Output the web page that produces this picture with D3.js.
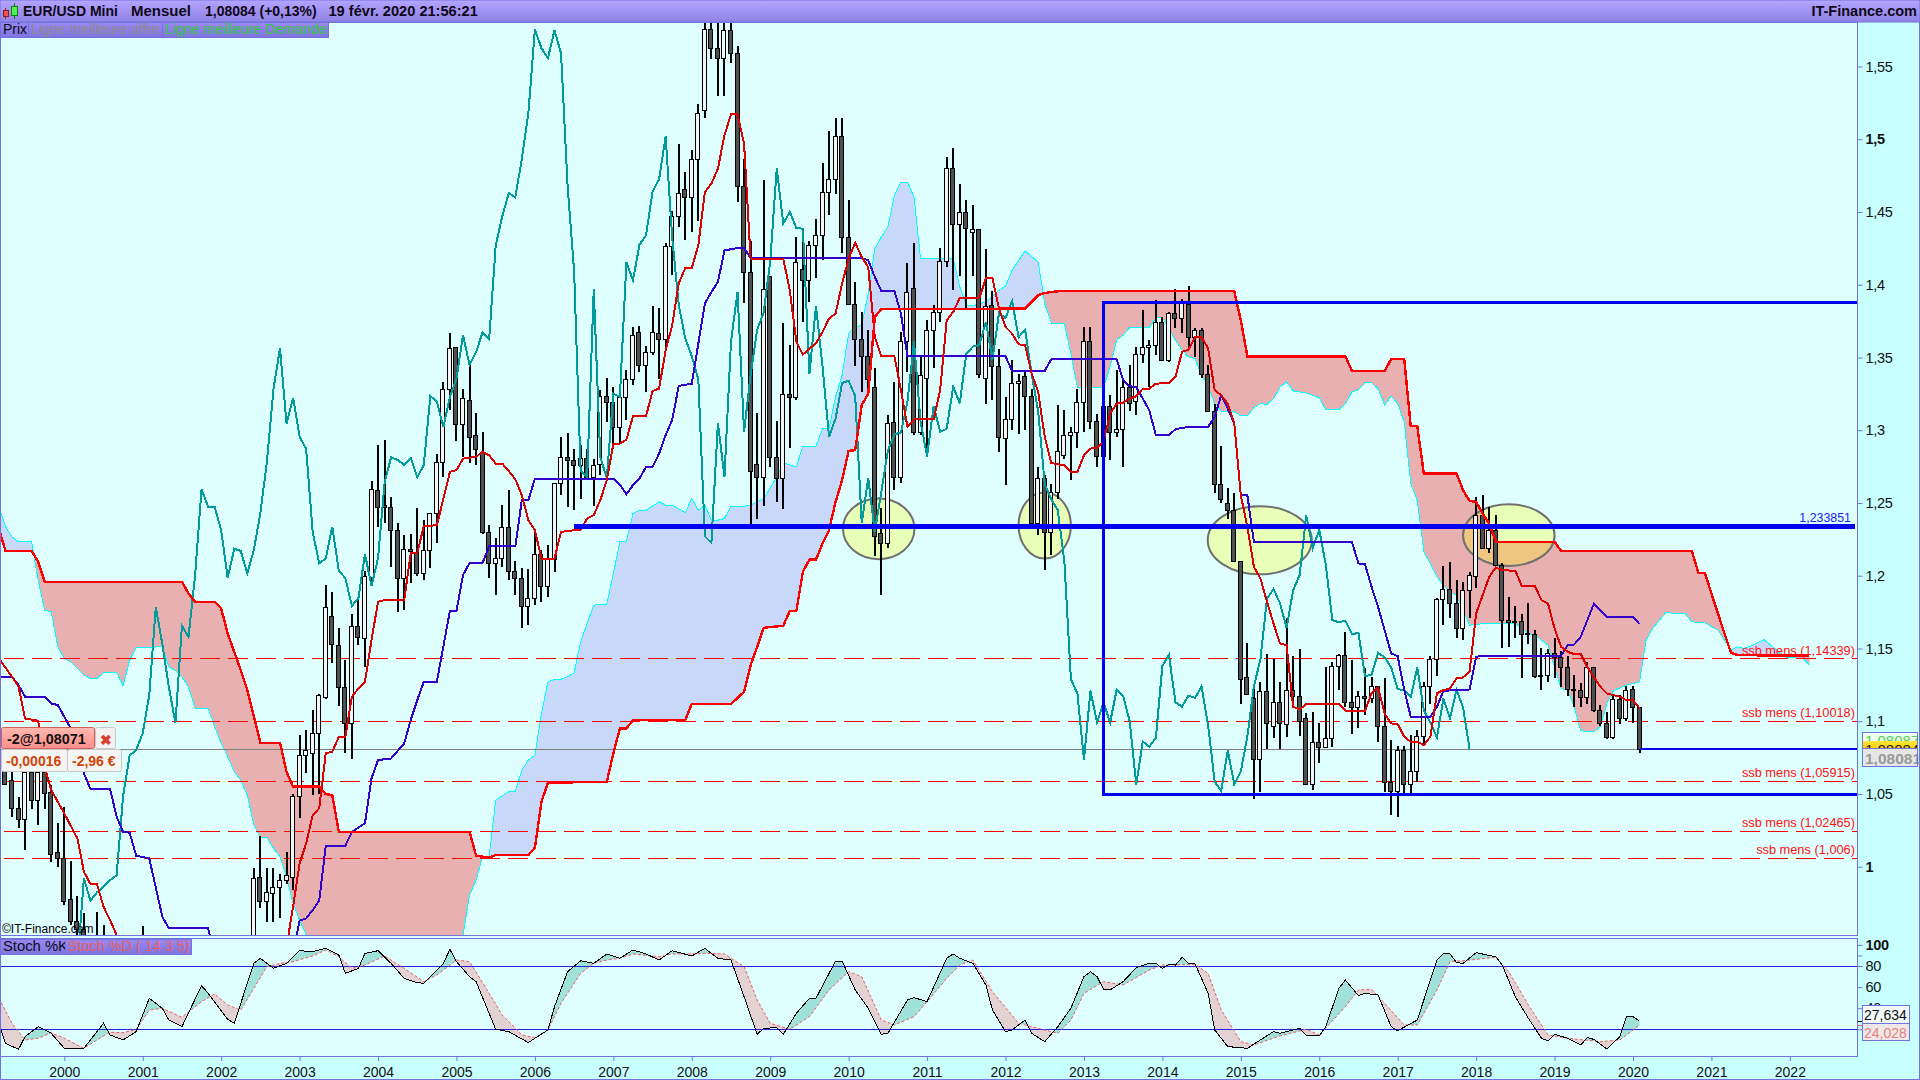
<!DOCTYPE html>
<html><head><meta charset="utf-8"><title>EUR/USD Mini</title>
<script src="https://cdn.jsdelivr.net/npm/d3@7/dist/d3.min.js"></script>
<style>html,body{margin:0;padding:0;background:#dfffff}svg{display:block}text{font-family:"Liberation Sans",Arial,sans-serif}</style>
</head><body><div id="chart"></div><script>
// months are counted from Jan 2000 = 0
const firstCandleMonth=-9;
const opens=[1.0760,1.0596,1.0403,1.0328,1.0653,1.0458,1.0653,1.0515,1.0103,
1.0058,.9778,.9627,.9570,.9110,.9305,.9530,.9240,.8880,.8825,.8485,.8700,
.9405,.9230,.9190,.8790,.8880,.8460,.8470,.8770,.9120,.9100,.9050,.8980,
.8900,.8610,.8700,.8720,.9010,.9330,.9931,.9766,.9817,.9863,.9908,.9931,
1.0486,1.0765,1.0779,1.0918,1.1166,1.1723,1.1525,1.1235,1.0987,1.1654,1.1574,1.1993,
1.2589,1.2484,1.2474,1.2312,1.1985,1.2186,1.2165,1.2016,1.2177,1.2430,1.2784,1.3282,
1.3574,1.3043,1.3211,1.2967,1.2852,1.2302,1.2085,1.2119,1.2336,1.2035,1.1983,1.1792,
1.1846,1.2150,1.1928,1.2115,1.2637,1.2816,1.2795,1.2762,1.2810,1.2676,1.2767,1.3235,
1.3196,1.3022,1.3230,1.3355,1.3678,1.3448,1.3537,1.3666,1.3625,1.4268,1.4470,1.4660,
1.4600,1.4865,1.5199,1.5756,1.5626,1.5558,1.5750,1.5590,1.4680,1.4090,1.2770,1.2680,
1.4060,1.2815,1.2670,1.3250,1.3230,1.4110,1.4030,1.4275,1.4340,1.4640,1.4725,1.5020,
1.4325,1.3865,1.3630,1.3510,1.3300,1.2294,1.2227,1.3058,1.2680,1.3610,1.3975,1.2990,
1.3360,1.3690,1.3810,1.4160,1.4800,1.4420,1.4500,1.4365,1.4385,1.3360,1.3860,1.3440,
1.2945,1.3080,1.3325,1.3370,1.3235,1.2362,1.2670,1.2300,1.2577,1.2830,1.2970,1.2985,
1.3195,1.3610,1.3060,1.2820,1.3165,1.2990,1.3010,1.3300,1.3200,1.3525,1.3575,1.3585,
1.3745,1.3485,1.3805,1.3770,1.3870,1.3640,1.3690,1.3385,1.3130,1.2630,1.2500,1.2450,
1.2100,1.1305,1.1160,1.0737,1.1210,1.0970,1.1130,1.0980,1.1215,1.1175,1.1020,1.0565,
1.0860,1.0825,1.0885,1.1380,1.1455,1.1130,1.1100,1.1175,1.1160,1.1240,1.0970,1.0585,
1.0520,1.0800,1.0565,1.0655,1.0895,1.1240,1.1425,1.1840,1.1910,1.1810,1.1640,1.1900,
1.2000,1.2415,1.2190,1.2315,1.2075,1.1695,1.1680,1.1690,1.1600,1.1600,1.1310,1.1320,
1.1470,1.1440,1.1370,1.1220,1.1215,1.1165,1.1370,1.1075,1.0990,1.0890,1.1155,1.1020,
1.1220,1.1095];
const highs=[1.0880,1.0760,1.0480,1.0780,1.0780,1.0720,1.0880,1.0560,1.0300,
1.0410,1.0036,.9800,.9680,.9400,.9690,.9600,.9280,.9030,.8840,.8840,.9410,
.9590,.9370,.9310,.9080,.9000,.8660,.8870,.9200,.9280,.9130,.9060,.9050,
.9040,.8780,.8840,.9050,.9370,.9993,1.0211,.9990,.9990,.9950,1.0103,1.0500,
1.0905,1.0940,1.1080,1.1190,1.1936,1.1888,1.1640,1.1420,1.1737,1.1850,1.2030,1.2650,
1.2898,1.2933,1.2544,1.2362,1.2280,1.2290,1.2466,1.2383,1.2430,1.2840,1.3333,1.3668,
1.3574,1.3280,1.3450,1.3121,1.2989,1.2350,1.2258,1.2485,1.2589,1.2100,1.2050,1.2049,
1.2323,1.2180,1.2209,1.2640,1.2955,1.2980,1.2868,1.2900,1.2870,1.2800,1.3275,1.3360,
1.3298,1.3240,1.3415,1.3712,1.3715,1.3580,1.3854,1.3838,1.4290,1.4507,1.4967,1.4775,
1.4926,1.5242,1.5900,1.6020,1.5810,1.5800,1.6038,1.5640,1.4867,1.4300,1.3118,1.4720,
1.4060,1.3060,1.3738,1.3585,1.4330,1.4335,1.4300,1.4450,1.4840,1.5060,1.5145,1.5145,
1.4580,1.4020,1.3815,1.3690,1.3430,1.2465,1.3105,1.3333,1.3675,1.4150,1.4285,1.3500,
1.3756,1.3862,1.4250,1.4880,1.4940,1.4695,1.4580,1.4545,1.4385,1.4245,1.3960,1.3555,
1.3230,1.3485,1.3385,1.3400,1.3285,1.2750,1.2690,1.2630,1.3170,1.3140,1.3025,1.3285,
1.3710,1.3710,1.3110,1.3240,1.3240,1.3415,1.3345,1.3450,1.3570,1.3825,1.3620,1.3895,
1.3775,1.3810,1.3970,1.3900,1.3993,1.3700,1.3700,1.3450,1.3180,1.2890,1.2600,1.2570,
1.2100,1.1535,1.1220,1.1270,1.1465,1.1430,1.1270,1.1710,1.1450,1.1495,1.1055,1.1060,
1.0985,1.1375,1.1410,1.1465,1.1615,1.1420,1.1205,1.1365,1.1305,1.1240,1.1300,1.0870,
1.0830,1.0830,1.0905,1.0940,1.1270,1.1445,1.1845,1.2070,1.2095,1.1970,1.1960,1.2025,
1.2540,1.2555,1.2475,1.2415,1.2085,1.1855,1.1790,1.1735,1.1815,1.1625,1.1500,1.1495,
1.1570,1.1480,1.1450,1.1320,1.1265,1.1410,1.1370,1.1110,1.1060,1.1180,1.1180,1.1240,
1.1240,1.1095];
const lows=[1.0560,1.0340,1.0266,1.0115,1.0400,1.0287,1.0400,1.0034,1.0000,
.9737,.9600,.9400,.9050,.8850,.9270,.9050,.8840,.8450,.8230,.8380,.8660,
.9080,.9070,.8780,.8740,.8440,.8400,.8380,.8770,.8900,.8900,.8750,.8800,
.8580,.8610,.8620,.8670,.9000,.9330,.9714,.9622,.9620,.9650,.9880,.9840,
1.0335,1.0644,1.0493,1.0500,1.1150,1.1400,1.1104,1.0780,1.0740,1.1525,1.1374,1.1930,
1.2337,1.2360,1.2060,1.1752,1.1764,1.1953,1.2000,1.1970,1.2050,1.2225,1.2680,1.3139,
1.2923,1.2816,1.2773,1.2760,1.2290,1.1982,1.1865,1.2060,1.1970,1.1865,1.1640,1.1662,
1.1799,1.1820,1.1855,1.2028,1.2558,1.2475,1.2453,1.2530,1.2660,1.2480,1.2690,1.3058,
1.2870,1.2912,1.3068,1.3310,1.3402,1.3265,1.3517,1.3355,1.3550,1.4070,1.4398,1.4310,
1.4364,1.4440,1.5145,1.5550,1.5300,1.5300,1.5525,1.4570,1.3877,1.2330,1.2390,1.2477,
1.2750,1.2509,1.2457,1.2876,1.3210,1.3746,1.3880,1.4045,1.4170,1.4480,1.4625,1.4218,
1.3860,1.3440,1.3265,1.3265,1.2135,1.1867,1.2193,1.2590,1.2640,1.3400,1.2970,1.2968,
1.2860,1.3430,1.3745,1.4120,1.3965,1.4060,1.3840,1.4060,1.3360,1.3180,1.3210,1.2850,
1.2625,1.3000,1.2975,1.3000,1.2335,1.2280,1.2040,1.2142,1.2530,1.2800,1.2660,1.2875,
1.2990,1.3010,1.2750,1.2810,1.2795,1.2955,1.2750,1.3130,1.3105,1.3465,1.3295,1.3517,
1.3475,1.3470,1.3700,1.3670,1.3575,1.3500,1.3360,1.3130,1.2570,1.2500,1.2390,1.2100,
1.1120,1.1185,1.0465,1.0515,1.0810,1.0885,1.0810,1.0890,1.1090,1.0895,1.0560,1.0525,
1.0710,1.0825,1.0820,1.1215,1.1100,1.0910,1.0950,1.1045,1.1125,1.0855,1.0515,1.0352,
1.0340,1.0495,1.0500,1.0585,1.0840,1.1115,1.1310,1.1660,1.1710,1.1575,1.1555,1.1710,
1.1915,1.2190,1.2155,1.2075,1.1505,1.1510,1.1575,1.1300,1.1530,1.1300,1.1215,1.1270,
1.1300,1.1235,1.1175,1.1100,1.1100,1.1115,1.1060,1.0965,1.0880,1.0880,1.0980,1.1000,
1.0990,1.0780];
const closes=[1.0570,1.0403,1.0328,1.0653,1.0458,1.0653,1.0504,1.0090,1.0058,
.9766,.9627,.9570,.9110,.9305,.9530,.9240,.8880,.8825,.8485,.8700,.9405,
.9230,.9190,.8790,.8880,.8460,.8470,.8770,.9120,.9100,.9050,.8980,.8900,
.8610,.8700,.8720,.9010,.9330,.9920,.9766,.9824,.9863,.9908,.9940,1.0486,
1.0765,1.0802,1.0918,1.1180,1.1785,1.1530,1.1235,1.0987,1.1656,1.1579,1.1996,1.2595,
1.2474,1.2474,1.2312,1.1985,1.2186,1.2170,1.2016,1.2177,1.2430,1.2784,1.3282,1.3564,
1.3046,1.3223,1.2955,1.2872,1.2302,1.2085,1.2119,1.2336,1.2035,1.1983,1.1792,1.1846,
1.2150,1.1928,1.2121,1.2637,1.2815,1.2795,1.2762,1.2810,1.2676,1.2761,1.3235,1.3196,
1.3022,1.3230,1.3355,1.3654,1.3448,1.3537,1.3674,1.3625,1.4268,1.4470,1.4630,1.4600,
1.4865,1.5180,1.5756,1.5626,1.5558,1.5750,1.5590,1.4680,1.4090,1.2720,1.2680,1.3970,
1.2816,1.2670,1.3250,1.3230,1.4155,1.4030,1.4275,1.4340,1.4640,1.4725,1.5020,1.4325,
1.3865,1.3630,1.3510,1.3350,1.2270,1.2227,1.3050,1.2680,1.3610,1.3950,1.2990,1.3380,
1.3690,1.3810,1.4160,1.4800,1.4420,1.4500,1.4390,1.4385,1.3385,1.3855,1.3440,1.2955,
1.3080,1.3325,1.3340,1.3235,1.2362,1.2670,1.2300,1.2577,1.2860,1.2970,1.2985,1.3195,
1.3610,1.3060,1.2820,1.3165,1.2990,1.3010,1.3300,1.3185,1.3525,1.3575,1.3585,1.3745,
1.3485,1.3805,1.3770,1.3888,1.3640,1.3690,1.3385,1.3130,1.2630,1.2525,1.2450,1.2100,
1.1290,1.1190,1.0737,1.1210,1.0990,1.1130,1.0990,1.1215,1.1175,1.1000,1.0565,1.0860,
1.0825,1.0885,1.1380,1.1455,1.1130,1.1100,1.1175,1.1160,1.1240,1.0970,1.0585,1.0520,
1.0800,1.0565,1.0655,1.0895,1.1240,1.1425,1.1840,1.1910,1.1810,1.1640,1.1900,1.2005,
1.2415,1.2190,1.2315,1.2075,1.1695,1.1680,1.1690,1.1600,1.1605,1.1310,1.1320,1.1470,
1.1440,1.1370,1.1220,1.1215,1.1165,1.1370,1.1075,1.0990,1.0890,1.1155,1.1020,1.1215,
1.1095,1.0808];
const chikouLagMonths=26;

const tenkanMonths=[-10,-8,-7,-6,-4,-3,-2,0,2,3,4,5,6,7,8,9,12,25,27,34,35,36,37,38,39,40,41,42,43,44,45,46,47,48,49,52,53,54,55,57,58,59,60,61,63,64,65,66,67,68,69,70,71,72,73,75,76,78,79,80,81,82,83,84,85,86,87,89,90,91,92,93,94,95,96,97,98,99,100,101,102,103,104,105,110,111,112,113,114,115,116,117,118,119,120,121,122,123,124,125,127,128,129,130,133,134,135,136,137,140,141,142,143,144,145,146,147,148,149,150,151,152,153,154,155,156,157,158,159,160,161,162,163,164,165,166,167,169,170,171,172,173,174,175,176,177,178,179,180,181,182,183,184,185,186,187,188,189,190,195,196,199,200,201,202,203,204,205,206,207,208,209,210,211,212,213,214,215,216,217,218,219,220,222,223,225,226,227,228,229,230,231,232,233,234,235,236,238,239,240,241];
const tenkanValues=[1.1432,1.1305,1.1237,1.1019,1.1003,1.0687,1.0527,1.0366,1.0195,.9966,.9881,.9881,.9725,.9634,.9531,.935,.90,.90,.91,.945,.9725,1.0023,1.0160,1.0355,1.0401,1.0779,1.0790,1.0893,1.0893,1.1168,1.1225,1.1271,1.1557,1.1821,1.1832,1.1832,1.2153,1.2157,1.2340,1.2347,1.2530,1.2714,1.2725,1.2805,1.2817,1.2851,1.2828,1.2771,1.2771,1.2720,1.2663,1.2553,1.2382,1.2313,1.2118,1.2118,1.2301,1.2313,1.2317,1.2393,1.2416,1.2519,1.2656,1.2908,1.2908,1.2936,1.3096,1.3096,1.3270,1.3286,1.3550,1.3721,1.4008,1.4115,1.4115,1.4271,1.4637,1.4695,1.4798,1.5027,1.5171,1.5171,1.4969,1.4179,1.4179,1.3962,1.3607,1.3520,1.3561,1.3596,1.3676,1.3767,1.3802,1.4008,1.4179,1.4289,1.4191,1.4122,1.3641,1.3509,1.3509,1.3275,1.3023,1.3074,1.3074,1.3275,1.3756,1.3813,1.3909,1.3909,1.4046,1.4046,1.3836,1.3710,1.3664,1.3591,1.3584,1.3389,1.3263,1.2954,1.2775,1.2766,1.2759,1.2714,1.2714,1.2828,1.2874,1.2879,1.2920,1.3115,1.3183,1.3188,1.3218,1.3234,1.3286,1.3286,1.3320,1.3325,1.3366,1.3538,1.3554,1.3641,1.3641,1.3561,1.3275,1.3240,1.3183,1.3045,1.2553,1.2336,1.2061,1.1981,1.1821,1.1672,1.1534,1.1523,1.1099,1.1081,1.1118,1.1118,1.1072,1.1072,1.1191,1.1232,1.1053,1.0985,1.0980,1.0893,1.0859,1.0859,1.0836,1.0893,1.1191,1.1214,1.1225,1.1294,1.1301,1.1340,1.1740,1.1866,1.1992,1.2056,1.2038,1.2034,1.1928,1.1928,1.1832,1.1809,1.1637,1.1511,1.1477,1.1461,1.1461,1.1374,1.1305,1.1237,1.1191,1.1168,1.1145,1.1145,1.1088];

const kijunMonths=[-10,-8,-7,-6,-3,-2,-1,0,1,2,3,4,7,8,9,10,11,13,15,16,22,23,26,34,35,36,37,38,39,40,43,44,46,47,48,50,52,53,54,55,57,59,60,61,62,64,65,69,70,71,72,84,85,86,87,88,89,90,91,92,93,94,96,97,98,99,100,101,103,104,105,122,123,124,125,127,128,129,144,145,150,151,161,162,163,164,165,166,167,169,170,172,175,176,177,178,179,180,181,182,197,198,199,200,201,202,203,204,205,206,209,210,211,215,216,217,229,230,231,232,234,236,240,241];
const kijunValues=[1.1305,1.1305,1.1248,1.1168,1.1168,1.1122,1.1111,1.1031,1.0950,1.0847,1.0641,1.0534,1.0534,1.0344,1.0240,1.0234,1.0076,1.0057,.9656,.9576,.9576,.94,.905,.905,.94,.9629,.9645,.9702,.9766,1.0144,1.0144,1.0240,1.0298,1.0607,1.0733,1.0744,1.0847,1.1008,1.1145,1.1271,1.1271,1.1759,1.1759,1.2004,1.2088,1.2088,1.2203,1.2203,1.2519,1.2519,1.2668,1.2668,1.2625,1.2560,1.2622,1.2668,1.2748,1.2748,1.2840,1.2966,1.3069,1.3304,1.3320,1.3595,1.3870,1.3950,1.4019,1.4236,1.4252,1.4252,1.4184,1.4184,1.4168,1.4053,1.3957,1.3957,1.3801,1.3508,1.3508,1.3408,1.3408,1.3488,1.3488,1.3343,1.3302,1.3297,1.3217,1.3137,1.2966,1.2966,1.3007,1.3023,1.3023,1.3092,1.3240,1.3149,1.3046,1.2553,1.2553,1.2233,1.2233,1.2084,1.2079,1.1924,1.1786,1.1626,1.1466,1.1447,1.1214,1.1031,1.1031,1.1099,1.1209,1.1218,1.1443,1.1450,1.1450,1.1523,1.1527,1.1580,1.1805,1.1718,1.1718,1.1667];

const ssbMonths=[-10,-9,-5,-4,-3,18,19,20,23,24,25,27,28,30,33,34,35,39,40,41,42,62,63,65,66,71,72,73,74,83,84,85,86,87,95,96,102,104,105,106,107,110,111,112,113,114,115,116,117,118,119,120,121,122,123,124,125,147,148,149,150,151,152,179,180,181,196,197,202,203,205,206,207,208,213,214,215,216,217,218,219,228,229,249,250,251,252,253,254,255,256,267];
const ssbValues=[1.2324,1.2171,1.2171,1.2095,1.1958,1.1958,1.1878,1.1821,1.1821,1.1775,1.1603,1.1351,1.1214,1.0852,1.0852,1.0653,1.0550,1.0550,1.0499,1.0492,1.0240,1.0240,1.0076,1.0062,1.0080,1.0080,1.0131,1.0447,1.0577,1.0584,1.0779,1.0950,1.0950,1.1008,1.1008,1.1118,1.1118,1.1202,1.1385,1.1511,1.1642,1.1656,1.1759,1.1759,1.2027,1.2111,1.2111,1.2221,1.2313,1.2508,1.2656,1.2858,1.2863,1.3172,1.3252,1.3779,1.3832,1.3836,1.3882,1.3928,1.3943,1.3950,1.3955,1.3955,1.3755,1.3508,1.3508,1.3408,1.3408,1.3488,1.3488,1.3027,1.3027,1.2702,1.2702,1.2588,1.2514,1.2508,1.2427,1.2359,1.2233,1.2233,1.2171,1.2171,1.2020,1.2020,1.1878,1.1740,1.1603,1.1470,1.1454,1.1450];

const ssaMonths=[-10,-9,-8,-7,-5,-4,-3,-2,-1,0,1,2,3,4,5,6,8,9,10,11,15,16,17,18,19,20,22,23,24,25,26,27,28,29,30,31,32,33,34,35,36,37,38,42,55,60,61,62,63,64,65,66,68,69,70,71,72,73,74,75,76,77,78,79,80,81,83,84,85,86,87,88,89,91,92,93,95,96,97,98,99,100,101,102,104,105,107,109,110,112,113,115,116,117,118,119,120,121,122,123,124,125,126,127,128,129,130,131,136,137,138,139,141,143,144,145,147,149,150,151,153,154,155,156,159,160,161,162,163,166,167,168,169,170,171,172,173,174,175,176,177,179,180,181,182,183,184,185,186,187,188,190,192,193,195,196,197,198,199,200,201,202,203,204,205,206,207,208,209,210,211,212,213,214,215,216,219,222,224,225,226,227,228,229,230,231,232,234,235,236,237,239,241,242,243,245,248,249,251,253,255,256,257,258,260,262,263,266,267];
const ssaValues=[1.2473,1.2336,1.2267,1.2233,1.2233,1.1969,1.1763,1.1752,1.1511,1.1431,1.1408,1.1363,1.1317,1.1294,1.1294,1.1335,1.1335,1.1243,1.1420,1.1507,1.1511,1.1374,1.1347,1.1305,1.1237,1.1088,1.1088,1.0962,1.0847,1.0756,1.0653,1.0595,1.0492,1.0286,1.0202,1.0202,1.0126,1.0069,.9931,.9748,.9634,.9531,.9405,.88,.88,.93,.9531,.9805,.9908,1.0069,1.0069,1.0458,1.0515,1.0515,1.0664,1.0733,1.0767,1.1053,1.1271,1.1287,1.1289,1.1305,1.1333,1.1546,1.1672,1.1798,1.1805,1.2015,1.2233,1.2237,1.2427,1.2450,1.2450,1.2508,1.2485,1.2485,1.2434,1.2530,1.2450,1.2485,1.2382,1.2382,1.2393,1.2478,1.2478,1.2485,1.2530,1.2679,1.2775,1.2748,1.2890,1.2890,1.3011,1.3011,1.3229,1.3378,1.3664,1.3710,1.3721,1.3939,1.4248,1.4328,1.4397,1.4614,1.4706,1.4706,1.4603,1.4179,1.4179,1.3985,1.3859,1.3855,1.3882,1.3962,1.3991,1.4099,1.4232,1.4156,1.3870,1.3737,1.3737,1.3526,1.3297,1.3293,1.3293,1.3435,1.3618,1.3653,1.3705,1.3705,1.3774,1.3774,1.3698,1.3618,1.3550,1.3504,1.3492,1.3378,1.3297,1.3183,1.3132,1.3126,1.3098,1.3098,1.3155,1.3183,1.3178,1.3217,1.3297,1.3332,1.3270,1.3256,1.3224,1.3141,1.3141,1.3183,1.3263,1.3279,1.3327,1.3327,1.3286,1.3172,1.3236,1.3183,1.3057,1.2634,1.2519,1.2164,1.2084,1.1992,1.1935,1.1889,1.1866,1.1763,1.1660,1.1667,1.1672,1.1672,1.1603,1.1592,1.1557,1.1523,1.1374,1.1225,1.1214,1.1099,1.0934,1.0927,1.0962,1.1122,1.1209,1.1248,1.1271,1.1557,1.1637,1.1745,1.1740,1.1683,1.1676,1.1626,1.1489,1.1511,1.1500,1.1516,1.1562,1.1489,1.1443,1.1431,1.1385];

const stochKMonths=[-10,-9,-7,-6,-4,-2,0,3,6,7,9,11,13,15,16,18,21,22,25,26,29,30,32,34,36,38,40,42,43,45,46,48,50,52,54,55,58,59,60,62,63,66,68,71,72,74,75,77,79,81,83,85,87,89,91,93,96,98,100,102,104,106,107,109,110,112,114,115,118,119,121,123,125,126,129,130,132,135,136,137,139,141,142,144,145,147,148,150,152,154,156,157,158,159,160,162,164,166,167,168,169,170,171,172,173,175,176,178,181,183,185,186,189,190,192,193,195,196,198,199,201,203,204,207,210,211,212,213,214,216,219,220,222,224,226,227,228,230,232,233,234,236,238,239,240,241];
const stochKValues=[25.7,6.7,1.1,13.1,22.5,16.2,2,2,25.7,14.6,9.9,17.8,49.4,39.9,28.8,22.5,61.4,54.1,29.5,25.7,82.5,87.3,77.8,82.5,94.5,93.6,96.7,90.4,73,77.8,92,94.5,82.5,68.3,64.2,63.6,82.5,95.8,84.1,69.9,65.2,20,17.8,7.4,11.5,19.4,41.5,74.6,85,82.5,91.4,87.3,95.2,91.4,85.7,94.5,89.5,96.7,87.3,85.7,50.9,15.3,20.9,21.6,15.3,35.2,49.4,49.4,84.7,84.7,57.3,39.9,15.3,16.2,47.8,50,46.2,87.3,91.4,87.3,82.5,62,38.3,17.8,19.4,28.8,16.2,8.3,22.5,39.9,69.9,74.6,69.9,57.9,57.3,65.2,78.4,82.5,82.5,77.8,81.6,80.9,88.2,82.5,81.9,54.1,19.4,3.6,2,9.9,17.8,16.2,20.9,14.6,13.7,22.5,58.8,66.7,51.9,54.1,52.5,22.5,18.7,28.8,85.7,92,91.4,83.2,82.5,92.6,88.8,80.9,50.9,30.4,11.5,9,15.3,11.5,5.2,12.1,10.5,1.4,13.1,32,32,27.634];
const stochDMonths=[-10,-8,-6,-4,-2,0,3,6,7,9,11,13,15,18,21,23,25,27,29,31,33,35,38,40,42,44,46,49,52,55,57,59,60,62,65,67,70,72,74,76,79,81,83,85,87,91,93,96,98,101,104,106,108,111,114,117,120,122,125,127,130,132,135,137,139,142,146,149,152,154,156,159,162,166,168,173,175,177,180,182,186,190,192,196,198,200,202,205,207,210,212,214,219,221,224,227,230,235,238,241];
const stochDValues=[49.4,25.7,9.9,11.5,16.8,11.5,2,13.7,17.2,16.8,20,38.3,39.9,31.4,46.2,53.5,43,38.3,58.8,79.4,82.5,84.1,89.5,95.2,88.8,77.8,80.9,89.5,77.8,65.2,71.5,80.9,85.7,84.1,54.1,33.6,14.6,12.1,19.4,44.6,73,82.5,85.7,87.3,91.4,88.8,91.4,91.4,92,91.4,79.4,47.8,25.7,20,32,57.3,74.6,69.9,28.8,24.1,32,46.2,68.3,80.9,85.7,55.7,25.7,20.9,16.2,28.8,54.1,65.2,62,76.2,80.9,81.6,73,38.3,8.3,5.2,13.7,20,14.6,41.5,57.3,57.9,44.6,24.1,24.1,57.3,84.1,85,88.2,74.6,43,14.6,11.5,8.3,9.9,24.028];

const priceTicks=[1,1.05,1.1,1.15,1.2,1.25,1.3,1.35,1.4,1.45,1.5,1.55];
const boldPriceTicks=[1,1.5];
const stochTicks=[100,90,80,60,40,20];
const stochLabelTicks=[100,80,60,40];
const years=d3.range(2000,2023);
const ssbLevels=[1.14339,1.10018,1.05915,1.02465,1.006];
const ssbLevelLabels=["ssb mens (1,14339)","ssb mens (1,10018)","ssb mens (1,05915)","ssb mens (1,02465)","ssb mens (1,006)"];
const resistanceLevel=1.233851, resistanceFromMonth=78;
const lastPrice=1.0808, lastPriceMonth=241, orderPrice=1.08071;
const rangeBoxMonth=159, rangeBoxTop=1.3879, rangeBoxBottom=1.0493;
const ellipseMonths=[124.6,150,182.9,221], ellipseRadiusMonths=[5.47,4,7.96,7];
const ellipsePrices=[1.2322,1.2345,1.2244,1.2279], ellipseRadiusPrices=[.0208,.0227,.0234,.0212];

// layout
const W=1920,H=1080,plotR=1857.5,mainT=22,mainB=935,stochT=938,stochB=1056;
const frame="#7373e0",bgMain="#dfffff",bgAxis="#c8ffff";
const x=d3.scaleLinear().domain([0,240]).range([64.3,1633]);
const y=d3.scaleLinear().domain([1,1.55]).range([866.7,66.5]);
const ys=d3.scaleLinear().domain([20,80]).range([1029.3,966]);
const comma=v=>String(v).replace(".",",");

const svg=d3.select("#chart").append("svg").attr("width",W).attr("height",H).attr("viewBox",[0,0,W,H]);
const defs=svg.append("defs");
function grad(id,stops){const g=defs.append("linearGradient").attr("id",id).attr("x1",0).attr("x2",0).attr("y1",0).attr("y2",1);
 stops.forEach((c,i)=>g.append("stop").attr("offset",i/(stops.length-1)).attr("stop-color",c));}
grad("hdr",["#b4a4ff","#8e82e4"]);grad("tab",["#9a88f0","#7f74e0"]);grad("ord",["#ffb8b0","#ff9088"]);
grad("ybar",["#ffe840","#ffc800"]);
defs.append("clipPath").attr("id","mainClip").append("rect").attr("x",0).attr("y",mainT).attr("width",plotR).attr("height",mainB-mainT);
defs.append("clipPath").attr("id","stochClip").append("rect").attr("x",0).attr("y",stochT).attr("width",plotR).attr("height",stochB-stochT);

svg.append("rect").attr("width",W).attr("height",H).attr("fill",bgMain);
svg.append("rect").attr("x",plotR).attr("y",mainT).attr("width",W-plotR).attr("height",H-mainT).attr("fill",bgAxis);
svg.append("rect").attr("x",0).attr("y",stochB).attr("width",W).attr("height",H-stochB).attr("fill",bgAxis);

const main=svg.append("g").attr("clip-path","url(#mainClip)");
const crisp="crispEdges";

// Ichimoku cloud
const ssaAt=d3.scaleLinear().domain(ssaMonths).range(ssaValues);
const ssbAt=d3.scaleLinear().domain(ssbMonths).range(ssbValues);
const cloudGrid=d3.range(-10,267.01,.25);
main.append("path").datum(cloudGrid).attr("fill","#e8b0b0").attr("d",d3.area().x(m=>x(m)).y0(m=>y(ssbAt(m))).y1(m=>y(Math.min(ssaAt(m),ssbAt(m)))));
main.append("path").datum(cloudGrid).attr("fill","#c8d8f8").attr("d",d3.area().x(m=>x(m)).y0(m=>y(ssaAt(m))).y1(m=>y(Math.min(ssaAt(m),ssbAt(m)))));

const lineOf=(xs,ys0,sy)=>d3.line().x((d,i)=>x(xs[i])).y(d=>sy(d))(ys0);
main.append("path").attr("d",lineOf(ssaMonths,ssaValues,y)).attr("fill","none").attr("stroke","#00ffff").attr("stroke-width",1).attr("shape-rendering",crisp);

// ellipses
main.append("g").selectAll("ellipse").data(ellipseMonths).join("ellipse")
 .attr("cx",d=>x(d)).attr("cy",(d,i)=>y(ellipsePrices[i]))
 .attr("rx",(d,i)=>x(d+ellipseRadiusMonths[i])-x(d)).attr("ry",(d,i)=>y(ellipsePrices[i]-ellipseRadiusPrices[i])-y(ellipsePrices[i]))
 .attr("fill","#ffff00").attr("fill-opacity",.28).attr("stroke","#707070").attr("stroke-width",2);

// current order line
main.append("line").attr("x1",0).attr("x2",plotR).attr("y1",Math.round(y(orderPrice))+.5).attr("y2",Math.round(y(orderPrice))+.5).attr("stroke","#808080").attr("stroke-width",1);

// ssb dashed levels
main.append("g").selectAll("line").data(ssbLevels).join("line")
 .attr("x1",0).attr("x2",plotR).attr("y1",d=>Math.round(y(d))+.5).attr("y2",d=>Math.round(y(d))+.5)
 .attr("stroke","#ff0000").attr("stroke-width",1).attr("stroke-dasharray","20 8").attr("stroke-dashoffset",-4);

// candles
const months=opens.map((d,i)=>firstCandleMonth+i);
const cg=main.append("g").attr("shape-rendering",crisp);
cg.selectAll("line").data(months).join("line").attr("x1",m=>Math.round(x(m))).attr("x2",m=>Math.round(x(m)))
 .attr("y1",(m,i)=>y(highs[i])).attr("y2",(m,i)=>y(lows[i])).attr("stroke","#000").attr("stroke-width",2);
cg.selectAll("rect").data(months).join("rect").attr("x",m=>Math.round(x(m))-2.5).attr("width",4)
 .attr("y",(m,i)=>Math.round(y(Math.max(opens[i],closes[i])))+.5)
 .attr("height",(m,i)=>Math.max(1,Math.round(y(Math.min(opens[i],closes[i])))-Math.round(y(Math.max(opens[i],closes[i])))))
 .attr("fill",(m,i)=>closes[i]>=opens[i]?"#f4f4f4":"#505050").attr("stroke","#000").attr("stroke-width",1);

// chikou (closes drawn 26 months back), tenkan, kijun, ssb
main.append("path").attr("d",lineOf(months.map(m=>m-chikouLagMonths),closes,y)).attr("fill","none").attr("stroke","#009c9c").attr("stroke-width",2).attr("shape-rendering",crisp);
main.append("path").attr("d",lineOf(kijunMonths,kijunValues,y)).attr("fill","none").attr("stroke","#3300cc").attr("stroke-width",2).attr("shape-rendering",crisp);
main.append("path").attr("d",lineOf(tenkanMonths,tenkanValues,y)).attr("fill","none").attr("stroke","#dd0000").attr("stroke-width",2).attr("shape-rendering",crisp);
main.append("path").attr("d",lineOf(ssbMonths,ssbValues,y)).attr("fill","none").attr("stroke","#ff0000").attr("stroke-width",2.4).attr("shape-rendering",crisp);

// blue drawings
const blue="#0000ee";
main.append("line").attr("x1",x(resistanceFromMonth)).attr("x2",1854.5).attr("y1",y(resistanceLevel)).attr("y2",y(resistanceLevel)).attr("stroke",blue).attr("stroke-width",5).attr("shape-rendering",crisp);
main.append("path").attr("d",d3.line()([[plotR,y(rangeBoxTop)],[x(rangeBoxMonth),y(rangeBoxTop)],[x(rangeBoxMonth),y(rangeBoxBottom)],[plotR,y(rangeBoxBottom)]])).attr("fill","none").attr("stroke",blue).attr("stroke-width",3).attr("shape-rendering",crisp);
main.append("line").attr("x1",x(lastPriceMonth)).attr("x2",plotR).attr("y1",y(lastPrice)).attr("y2",y(lastPrice)).attr("stroke",blue).attr("stroke-width",2).attr("shape-rendering",crisp);

// level labels
main.append("g").selectAll("text").data(ssbLevels).join("text").attr("x",1855).attr("y",d=>y(d)-3.5).attr("text-anchor","end")
 .attr("font-size",12.8).attr("fill","#ff1010").text((d,i)=>ssbLevelLabels[i]);
main.append("text").attr("x",1851).attr("y",y(resistanceLevel)-4.5).attr("text-anchor","end").attr("font-size",12.4).attr("fill","#2020ff").text(comma(resistanceLevel));
main.append("text").attr("x",2).attr("y",933).attr("font-size",12).attr("fill","#000").text("©IT-Finance.com");

// Stochastic panel
const st=svg.append("g").attr("clip-path","url(#stochClip)");
const kAt=d3.scaleLinear().domain(stochKMonths).range(stochKValues);
const dAt=d3.scaleLinear().domain(stochDMonths).range(stochDValues);
const stGrid=d3.range(-10,241.01,.25);
st.append("path").datum(stGrid).attr("fill","#a0e2da").attr("d",d3.area().x(m=>x(m)).y0(m=>ys(kAt(m))).y1(m=>ys(Math.min(kAt(m),dAt(m)))));
st.append("path").datum(stGrid).attr("fill","#e2d2d4").attr("d",d3.area().x(m=>x(m)).y0(m=>ys(dAt(m))).y1(m=>ys(Math.min(kAt(m),dAt(m)))));
st.append("g").selectAll("line").data([20,80]).join("line").attr("x1",0).attr("x2",plotR).attr("y1",d=>Math.round(ys(d))+.5).attr("y2",d=>Math.round(ys(d))+.5).attr("stroke","#2a1fd8").attr("stroke-width",1);
st.append("path").attr("d",lineOf(stochDMonths,stochDValues,ys)).attr("fill","none").attr("stroke","#ee5a5a").attr("stroke-width",1).attr("stroke-dasharray","3 2");
st.append("path").attr("d",lineOf(stochKMonths,stochKValues,ys)).attr("fill","none").attr("stroke","#000").attr("stroke-width",1).attr("shape-rendering",crisp);

// frames
const fr=svg.append("g").attr("shape-rendering",crisp).attr("stroke",frame).attr("fill","none");
fr.append("rect").attr("x",.5).attr("y",mainT).attr("width",plotR-.5).attr("height",mainB-mainT);
fr.append("rect").attr("x",.5).attr("y",stochT).attr("width",plotR-.5).attr("height",stochB-stochT);
fr.append("rect").attr("x",.5).attr("y",.5).attr("width",W-1).attr("height",H-1);

// axes
const axR=d3.axisRight(y).tickValues(priceTicks).tickSize(5).tickPadding(3).tickFormat(comma);
const axG=svg.append("g").attr("transform",`translate(${plotR},0)`).call(axR);
axG.select(".domain").remove();axG.selectAll("line").attr("stroke",frame);
axG.selectAll("text").attr("font-size",14.5).attr("fill","#111").attr("font-weight",d=>boldPriceTicks.includes(d)?"bold":"normal").style("letter-spacing","-.3px");
const axS=d3.axisRight(ys).tickValues(stochTicks).tickSize(5).tickPadding(3).tickFormat(d=>stochLabelTicks.includes(d)?d:"");
const asG=svg.append("g").attr("transform",`translate(${plotR},0)`).call(axS);
asG.select(".domain").remove();asG.selectAll("line").attr("stroke",frame);
asG.selectAll("text").attr("font-size",14.5).attr("fill","#111").attr("font-weight",d=>d===100?"bold":"normal").style("letter-spacing","-.3px");
const yearAxis=d3.axisBottom(x).tickValues(years.map(v=>(v-2000)*12)).tickSize(5).tickPadding(6).tickFormat(d=>2000+d/12);
const ayG=svg.append("g").attr("transform",`translate(0,${stochB})`).call(yearAxis);
ayG.select(".domain").remove();ayG.selectAll("line").attr("stroke",frame);
ayG.selectAll("text").attr("font-size",14).attr("fill","#111");

// header
svg.append("rect").attr("x",0).attr("y",0).attr("width",W).attr("height",mainT).attr("fill","url(#hdr)").attr("stroke",frame);
[["EUR/USD Mini",23,14],["Mensuel",131,15],["1,08084 (+0,13%)",205,14],["19 févr. 2020 21:56:21",328.5,14.6]].forEach(([t,px,fs])=>
 svg.append("text").attr("x",px).attr("y",16).attr("font-size",fs).attr("font-weight","bold").attr("fill","#100818").text(t));
svg.append("text").attr("x",1917).attr("y",16).attr("text-anchor","end").attr("font-size",14.5).attr("font-weight","bold").attr("fill","#100818").text("IT-Finance.com");
const ico=svg.append("g").attr("shape-rendering",crisp);
ico.append("line").attr("x1",5.5).attr("x2",5.5).attr("y1",8).attr("y2",19).attr("stroke","#a02020");
ico.append("rect").attr("x",3.5).attr("y",10.5).attr("width",5).attr("height",6).attr("fill","#f05050").attr("stroke","#802020");
ico.append("line").attr("x1",14.5).attr("x2",14.5).attr("y1",3).attr("y2",19).attr("stroke","#108010");
ico.append("rect").attr("x",11.5).attr("y",6.5).attr("width",6).attr("height",9).attr("fill","#50f050").attr("stroke","#108010");

// legend tabs
function tab(x0,x1,y0,y1,label,color,fs){
 svg.append("rect").attr("x",x0+.5).attr("y",y0+.5).attr("width",x1-x0).attr("height",y1-y0).attr("fill","url(#tab)").attr("stroke",frame).attr("shape-rendering",crisp);
 svg.append("text").attr("x",x0+3).attr("y",y1-3.5).attr("font-size",fs).attr("fill",color).text(label);
}
tab(0,28,22,37,"Prix","#0c0c20",14);tab(28,162,22,37,"Ligne meilleure offre","#8c8c8c",14.2);tab(162,328,22,37,"Ligne meilleure Demande","#30c83c",14.2);
tab(0,65,939,954,"Stoch %K","#0c0c20",14.8);tab(65,191,939,954,"Stoch %D ( 14 3 5)","#e86060",14.4);

// order box
const ob=svg.append("g");
ob.append("rect").attr("x",1.5).attr("y",727.5).attr("width",93).attr("height",21).attr("rx",2).attr("fill","url(#ord)").attr("stroke","#d06060");
ob.append("rect").attr("x",95.5).attr("y",727.5).attr("width",20).attr("height",21).attr("rx",2).attr("fill","#f2f2f2").attr("stroke","#c8c8c8");
ob.append("text").attr("x",7).attr("y",744).attr("font-size",14.4).attr("font-weight","bold").attr("fill","#111").text("-2@1,08071");
ob.append("text").attr("x",105.5).attr("y",745).attr("text-anchor","middle").attr("font-size",14).attr("font-weight","bold").attr("fill","#d84030").text("✖");
ob.append("rect").attr("x",1.5).attr("y",749.5).attr("width",66).attr("height",22).attr("rx",2).attr("fill","#f4f4f2").attr("stroke","#c8c8c8");
ob.append("rect").attr("x",67.5).attr("y",749.5).attr("width",54).attr("height",22).attr("rx",2).attr("fill","#f4f4f2").attr("stroke","#c8c8c8");
ob.append("text").attr("x",6).attr("y",766).attr("font-size",14).attr("font-weight","bold").attr("fill","#d04408").text("-0,00016");
ob.append("text").attr("x",72).attr("y",766).attr("font-size",14).attr("font-weight","bold").attr("fill","#d04408").text("-2,96 €");

// right price tags
const pb=svg.append("g");
const pbc=defs.append("clipPath").attr("id","tagClip");pbc.append("rect").attr("x",1862).attr("y",732).attr("width",56).attr("height",35);
const pt=pb.append("g").attr("clip-path","url(#tagClip)");
pt.append("rect").attr("x",1862).attr("y",732).attr("width",56).attr("height",9).attr("fill","#f0fff0");
pt.append("text").attr("x",1865).attr("y",746).attr("font-size",15).attr("font-weight","normal").attr("fill","#50d050").text("1,08087");
pt.append("rect").attr("x",1862).attr("y",741).attr("width",56).attr("height",8).attr("fill","url(#ybar)");
const ptClip=defs.append("clipPath").attr("id","tagClip2");ptClip.append("rect").attr("x",1862).attr("y",741).attr("width",56).attr("height",8);
pb.append("text").attr("clip-path","url(#tagClip2)").attr("x",1865).attr("y",755).attr("font-size",15).attr("fill","#222").text("1,08084");
pt.append("rect").attr("x",1862).attr("y",749).attr("width",56).attr("height",18).attr("fill","#e6e6e6");
pb.append("text").attr("x",1865).attr("y",764).attr("font-size",15.5).attr("font-weight","bold").attr("fill","#9a9a9a").text("1,08081");
pb.append("rect").attr("x",1862.5).attr("y",732.5).attr("width",55).attr("height",34).attr("fill","none").attr("stroke",frame);
pb.append("rect").attr("x",1862.5).attr("y",748.5).attr("width",55).attr("height",18).attr("fill","none").attr("stroke",frame);

// stoch tags with their value marks
const sb=svg.append("g");
sb.append("line").attr("x1",plotR).attr("x2",1862.5).attr("y1",Math.round(ys(stochKValues[stochKValues.length-1]))+.5).attr("y2",Math.round(ys(stochKValues[stochKValues.length-1]))+.5).attr("stroke","#000");
sb.append("line").attr("x1",plotR).attr("x2",1862.5).attr("y1",Math.round(ys(stochDValues[stochDValues.length-1]))+.5).attr("y2",Math.round(ys(stochDValues[stochDValues.length-1]))+.5).attr("stroke","#ee5a5a");
sb.append("rect").attr("x",1862.5).attr("y",1005.5).attr("width",47).attr("height",18).attr("fill","#f0f8f8").attr("stroke",frame);
sb.append("text").attr("x",1864).attr("y",1020).attr("font-size",14).attr("fill","#111").text("27,634");
sb.append("rect").attr("x",1862.5).attr("y",1023.5).attr("width",47).attr("height",17).attr("fill","#f0e8e8").attr("stroke",frame);
sb.append("text").attr("x",1864).attr("y",1038).attr("font-size",14).attr("fill","#e88080").text("24,028");
</script></body></html>
